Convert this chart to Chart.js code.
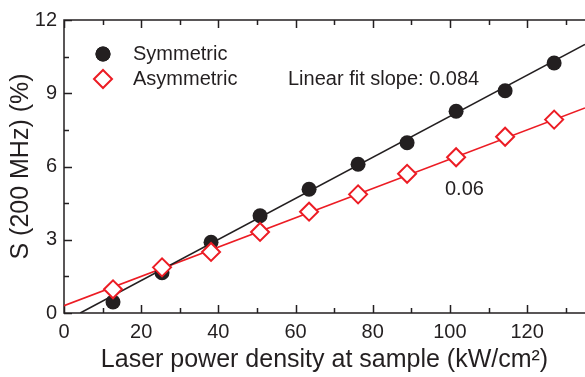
<!DOCTYPE html>
<html>
<head>
<meta charset="utf-8">
<script src="https://cdn.jsdelivr.net/npm/chart.js@4"></script>
<style>
  html, body { margin: 0; padding: 0; background: #fff; overflow: hidden; }
  #wrap { width: 585px; height: 377px; position: relative; }
  #chart { display: block; }
</style>
</head>
<body>
<div id="wrap"><canvas id="chart"></canvas></div>
<script>
const powerDensity = [12.7, 25.4, 38.1, 50.8, 63.5, 76.2, 88.9, 101.6, 114.3, 127.0];
const symmetric = [0.45, 1.65, 2.9, 3.98, 5.07, 6.09, 6.97, 8.26, 9.1, 10.24];
const asymmetric = [0.97, 1.87, 2.5, 3.32, 4.15, 4.86, 5.7, 6.38, 7.22, 7.92];
// fit lines, read as end points off the picture
const symmetricFit = [[4.2, 0], [135, 11.0]];
const asymmetricFit = [[0, 0.3], [135, 8.4]];
const xTickLabels = ['0', '20', '40', '60', '80', '100', '120'];
const yTickLabels = ['0', '3', '6', '9', '12'];

const ink = '#231f20';
const red = '#ec1c24';
const fontFamily = '"Liberation Sans", Arial, Helvetica, sans-serif';

Chart.defaults.font.family = fontFamily;
Chart.defaults.color = ink;

const toPoints = (xs, ys) => xs.map((x, i) => ({ x, y: ys[i] }));
const pairsToPoints = (pairs) => pairs.map(([x, y]) => ({ x, y }));

const framePlugin = {
  id: 'frame',
  beforeDatasetsDraw(chart) {
    const { ctx, chartArea: a, scales: { x, y } } = chart;
    ctx.save();
    ctx.strokeStyle = ink;
    ctx.lineWidth = 1.5;
    ctx.beginPath();
    ctx.moveTo(a.right, a.top);
    ctx.lineTo(a.left, a.top);
    ctx.lineTo(a.left, a.bottom);
    ctx.lineTo(a.right, a.bottom);
    x.ticks.forEach((t) => {
      const px = Math.round(x.getPixelForValue(t.value)) + 0.5;
      const len = t.label ? 8 : 5;
      ctx.moveTo(px, a.bottom);
      ctx.lineTo(px, a.bottom - len);
      ctx.moveTo(px, a.top);
      ctx.lineTo(px, a.top + len);
    });
    y.ticks.forEach((t) => {
      const py = Math.round(y.getPixelForValue(t.value)) + 0.5;
      const len = t.label ? 8 : 5;
      ctx.moveTo(a.left, py);
      ctx.lineTo(a.left + len, py);
    });
    ctx.stroke();
    ctx.restore();
  },
  afterDraw(chart) {
    const { ctx } = chart;
    const sym = chart.data.datasets[2];
    const asym = chart.data.datasets[3];
    ctx.save();
    // legend
    Chart.helpers.drawPoint(ctx, {
      pointStyle: sym.pointStyle, radius: sym.pointRadius,
      borderWidth: 0,
    }, 103, 54);
    ctx.fillStyle = ink;
    ctx.fill();
    ctx.fillStyle = '#fff';
    ctx.strokeStyle = red;
    ctx.lineWidth = asym.pointBorderWidth;
    Chart.helpers.drawPoint(ctx, {
      pointStyle: asym.pointStyle, radius: asym.pointRadius,
      borderWidth: asym.pointBorderWidth,
    }, 103, 79);
    ctx.fillStyle = ink;
    ctx.font = '20px ' + fontFamily;
    ctx.textBaseline = 'middle';
    ctx.textAlign = 'left';
    ctx.fillText(sym.label, 133, 54);
    ctx.fillText(asym.label, 133, 79);
    // annotations
    ctx.fillText('Linear fit slope: 0.084', 288, 79);
    ctx.fillText('0.06', 445, 189);
    ctx.restore();
  },
};

new Chart(document.getElementById('chart'), {
  type: 'scatter',
  data: {
    datasets: [
      {
        label: 'Symmetric fit',
        data: pairsToPoints(symmetricFit),
        showLine: true,
        borderColor: ink,
        borderWidth: 1.6,
        pointRadius: 0,
        order: 3,
      },
      {
        label: 'Asymmetric fit',
        data: pairsToPoints(asymmetricFit),
        showLine: true,
        borderColor: red,
        borderWidth: 1.6,
        pointRadius: 0,
        order: 4,
      },
      {
        label: 'Symmetric',
        data: toPoints(powerDensity, symmetric),
        pointStyle: 'circle',
        pointRadius: 7.5,
        pointBackgroundColor: ink,
        pointBorderColor: ink,
        pointBorderWidth: 0,
        order: 2,
      },
      {
        label: 'Asymmetric',
        data: toPoints(powerDensity, asymmetric),
        pointStyle: 'rectRot',
        pointRadius: 9,
        pointBackgroundColor: '#fff',
        pointBorderColor: red,
        pointBorderWidth: 2,
        order: 1,
      },
    ],
  },
  options: {
    responsive: true,
    maintainAspectRatio: false,
    animation: false,
    events: [],
    layout: { autoPadding: false, padding: { top: 20, right: 0, left: 0, bottom: 0 } },
    plugins: {
      legend: { display: false },
      tooltip: { enabled: false },
    },
    scales: {
      x: {
        type: 'linear',
        min: 0,
        max: 135,
        grid: { display: false, drawTicks: false },
        border: { display: false },
        ticks: {
          stepSize: 10,
          includeBounds: false,
          maxRotation: 0,
          autoSkip: false,
          padding: 7,
          font: { size: 20 },
          color: ink,
          callback: (v) => (xTickLabels.includes(String(v)) ? String(v) : ''),
        },
        title: {
          display: true,
          text: 'Laser power density at sample (kW/cm²)',
          font: { size: 25 },
          color: ink,
          padding: { top: 0, bottom: 2 },
        },
        afterFit: (s) => {
          s.height = 64;
          s.paddingLeft = 0;
          s.paddingRight = 0;
        },
      },
      y: {
        type: 'linear',
        min: 0,
        max: 12,
        grid: { display: false, drawTicks: false },
        border: { display: false },
        ticks: {
          stepSize: 1.5,
          autoSkip: false,
          padding: 7,
          font: { size: 20 },
          color: ink,
          callback: (v) => (yTickLabels.includes(String(v)) ? String(v) : ''),
        },
        title: {
          display: true,
          text: 'S (200 MHz) (%)',
          font: { size: 25 },
          color: ink,
          padding: { top: 6, bottom: 0 },
        },
        afterFit: (s) => {
          s.width = 64;
          s.paddingTop = 0;
          s.paddingBottom = 0;
        },
      },
    },
  },
  plugins: [framePlugin],
});
</script>
</body>
</html>
